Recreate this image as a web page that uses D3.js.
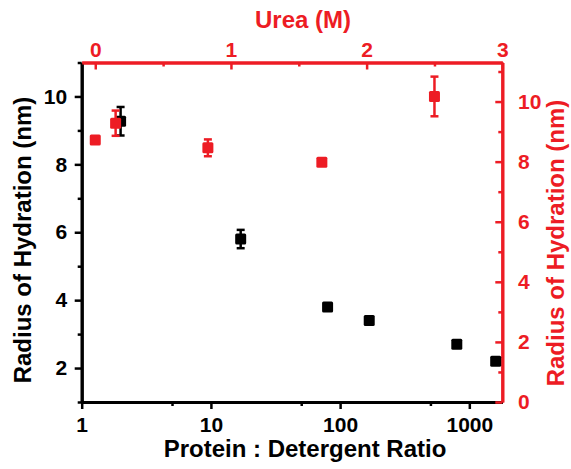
<!DOCTYPE html>
<html><head><meta charset="utf-8">
<script src="https://cdn.jsdelivr.net/npm/d3@7"></script>
<style>
body{margin:0;background:#fff}
svg{display:block}
text{font-family:"Liberation Sans",Arial,sans-serif;font-weight:bold}
</style>
</head><body>
<svg id="c" width="571" height="469"></svg>
<script>
// Data: detergent series (bottom log axis, left y)
const ratio = [2, 17, 80, 168, 800, 1600];
const radiusDet = [9.27, 5.8, 3.8, 3.4, 2.7, 2.2];
const errDet = [0.42, 0.27, 0.08, 0.08, 0.08, 0.08];
// Urea series (top axis, right y)
const urea = [0, 0.15, 0.83, 1.67, 2.5];
const radiusUrea = [8.72, 9.28, 8.46, 7.98, 10.17];
const errUrea = [0.1, 0.42, 0.28, 0.1, 0.66];
// Ticks
const bottomTicks = [1, 10, 100, 1000];
const bottomMinor = [5, 50, 500];
const topTicks = [0, 1, 2, 3];
const topMinor = [0.5, 1.5, 2.5];
const leftTicks = [2, 4, 6, 8, 10];
const leftMinor = [1, 3, 5, 7, 9, 11];
const rightTicks = [0, 2, 4, 6, 8, 10];
const rightMinor = [1, 3, 5, 7, 9, 11];

const RED = "#ED1C24", BLACK = "#000";
const L = 81.7, R = 502.3, T = 62.5, B = 402;
const TICK_FS = 21, TITLE_FS = 24;

const svg = d3.select("#c");
const x = d3.scaleLog().domain([1, 1800]).range([L, R]);
const xTop = d3.scaleLinear().domain([-0.1, 3]).range([L, R]);
const yL = d3.scaleLinear().domain([1, 11]).range([B, T]);
const yR = d3.scaleLinear().domain([0, 11.3]).range([B, T]);

function style(g, color) {
  g.select(".domain").attr("stroke", color).attr("stroke-width", 3);
  g.selectAll(".tick line").attr("stroke", color).attr("stroke-width", 2.5);
  g.selectAll(".tick text").attr("fill", color).style("font-size", TICK_FS + "px");
}

// minor ticks
svg.append("g").attr("transform", `translate(0,${B})`)
  .call(d3.axisBottom(x).tickValues(bottomMinor).tickSize(4).tickSizeOuter(0).tickFormat(""))
  .call(g => style(g, BLACK));
svg.append("g").attr("transform", `translate(${L},0)`)
  .call(d3.axisLeft(yL).tickValues(leftMinor).tickSize(4).tickSizeOuter(0).tickFormat(""))
  .call(g => style(g, BLACK));
svg.append("g").attr("transform", `translate(0,${T})`)
  .call(d3.axisTop(xTop).tickValues(topMinor).tickSize(-4).tickSizeOuter(0).tickFormat(""))
  .call(g => style(g, RED));
svg.append("g").attr("transform", `translate(${R},0)`)
  .call(d3.axisRight(yR).tickValues(rightMinor).tickSize(-4).tickSizeOuter(0).tickFormat(""))
  .call(g => style(g, RED));

// major axes
svg.append("g").attr("transform", `translate(0,${B})`)
  .call(d3.axisBottom(x).tickValues(bottomTicks).tickSize(7).tickPadding(8).tickSizeOuter(0).tickFormat(d3.format("d")))
  .call(g => style(g, BLACK));
svg.append("g").attr("transform", `translate(${L},0)`)
  .call(d3.axisLeft(yL).tickValues(leftTicks).tickSize(7).tickPadding(7.5).tickSizeOuter(0).tickFormat(d3.format("d")))
  .call(g => style(g, BLACK));
svg.append("g").attr("transform", `translate(0,${T})`)
  .call(d3.axisTop(xTop).tickValues(topTicks).tickSize(-7).tickPadding(6).tickSizeOuter(0).tickFormat(d3.format("d")))
  .call(g => style(g, RED));
svg.append("g").attr("transform", `translate(${R},0)`)
  .call(d3.axisRight(yR).tickValues(rightTicks).tickSize(-7).tickPadding(15.7).tickSizeOuter(0).tickFormat(d3.format("d")))
  .call(g => style(g, RED));

// series drawing
function series(xs, ys, es, xsc, ysc, color) {
  const g = svg.append("g");
  const cap = 4;
  xs.forEach((xv, i) => {
    const cx = xsc(xv), y0 = ysc(ys[i] - es[i]), y1 = ysc(ys[i] + es[i]);
    g.append("line").attr("x1", cx).attr("x2", cx).attr("y1", y0).attr("y2", y1)
      .attr("stroke", color).attr("stroke-width", 2.5);
    [y0, y1].forEach(yy => g.append("line").attr("x1", cx - cap).attr("x2", cx + cap)
      .attr("y1", yy).attr("y2", yy).attr("stroke", color).attr("stroke-width", 2.5));
    g.append("rect").attr("x", cx - 5.5).attr("y", ysc(ys[i]) - 5.5)
      .attr("width", 11).attr("height", 11).attr("rx", 1.5).attr("fill", color);
  });
}
series(ratio, radiusDet, errDet, x, yL, BLACK);
series(urea, radiusUrea, errUrea, xTop, yR, RED);

// titles
svg.append("text").attr("x", 303).attr("y", 27.5).attr("text-anchor", "middle")
  .attr("fill", RED).style("font-size", TITLE_FS + "px").text("Urea (M)");
svg.append("text").attr("x", 305).attr("y", 457).attr("text-anchor", "middle")
  .attr("fill", BLACK).style("font-size", TITLE_FS + "px").text("Protein : Detergent Ratio");
svg.append("text").attr("transform", "translate(30.5,240) rotate(-90)").attr("text-anchor", "middle")
  .attr("fill", BLACK).style("font-size", TITLE_FS + "px").text("Radius of Hydration (nm)");
svg.append("text").attr("transform", "translate(563.5,243) rotate(-90)").attr("text-anchor", "middle")
  .attr("fill", RED).style("font-size", TITLE_FS + "px").text("Radius of Hydration (nm)");
</script>
</body></html>
